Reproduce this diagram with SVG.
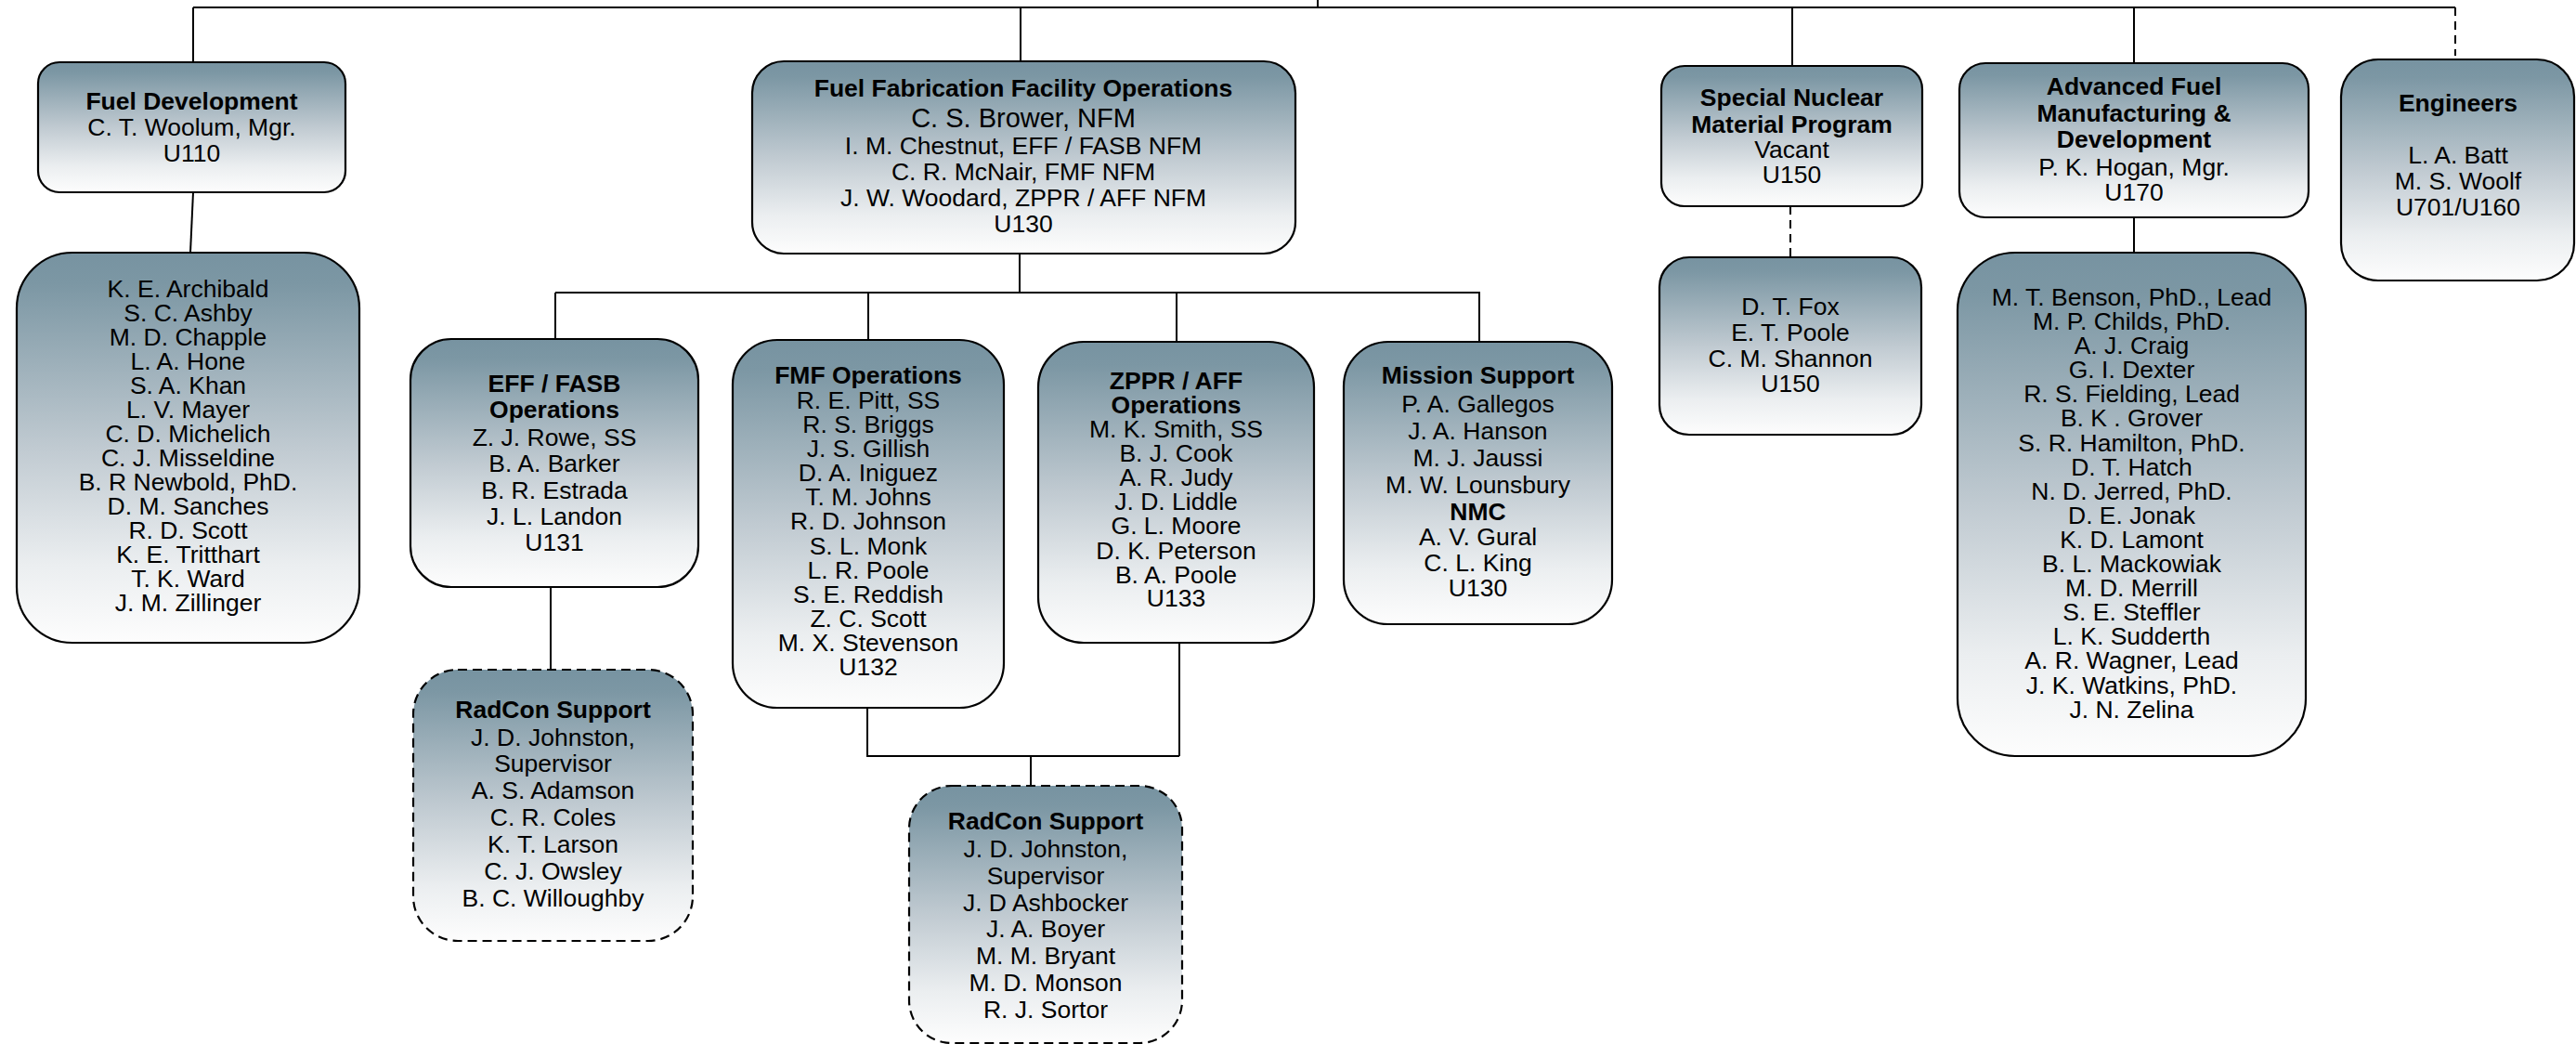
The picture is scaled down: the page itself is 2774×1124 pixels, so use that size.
<svg xmlns="http://www.w3.org/2000/svg" width="2774" height="1124" viewBox="0 0 2774 1124">
<defs>
<linearGradient id="g" x1="0" y1="0" x2="0" y2="1">
<stop offset="0" stop-color="#7793a1"/>
<stop offset="0.08" stop-color="#7c97a4"/>
<stop offset="0.5" stop-color="#c0cad1"/>
<stop offset="0.8" stop-color="#ebeef0"/>
<stop offset="1" stop-color="#fdfdfd"/>
</linearGradient>
<style>
.box{fill:url(#g);stroke:#000;stroke-width:2.2}
.dsh{stroke-dasharray:10 6}
.t{font-family:"Liberation Sans",Arial,sans-serif;font-size:26.5px;text-anchor:middle;fill:#000}
.b{font-weight:bold}
.c{stroke:#000;stroke-width:2;fill:none}
.cd{stroke-dasharray:9 6}
</style>
</defs>
<rect width="2774" height="1124" fill="#fff"/>
<g id="connectors">
<path class="c" d="M208 8H2644M1419 0V8M208 8V67M1099 8V66M1930 8V71M2298 8V68"/>
<path class="c cd" d="M2644 8V60"/>
<path class="c" d="M208 207L205 272"/>
<path class="c" d="M1098 273V315M598 315H1594M598 315V365M935 315V366M1267 315V368M1593 315V368"/>
<path class="c" d="M593 632V721"/>
<path class="c" d="M934 762V814H1270M1270 692V814M1110 814V846"/>
<path class="c cd" d="M1928 222V277"/>
<path class="c" d="M2298 234V272"/>
</g>
<g id="fuel-development">
<rect class="box" x="41" y="67" width="331" height="140" rx="23"/>
<text class="t"><tspan class="b" x="206.5" y="118">Fuel Development</tspan><tspan x="206.5" y="146">C. T. Woolum, Mgr.</tspan><tspan x="206.5" y="174">U110</tspan></text>
</g>
<g id="fuel-development-staff">
<rect class="box" x="18" y="272" width="369" height="420" rx="60"/>
<text class="t"><tspan x="202.5" y="320">K. E. Archibald</tspan><tspan x="202.5" y="346">S. C. Ashby</tspan><tspan x="202.5" y="372">M. D. Chapple</tspan><tspan x="202.5" y="398">L. A. Hone</tspan><tspan x="202.5" y="424">S. A. Khan</tspan><tspan x="202.5" y="450">L. V. Mayer</tspan><tspan x="202.5" y="476">C. D. Michelich</tspan><tspan x="202.5" y="502">C. J. Misseldine</tspan><tspan x="202.5" y="528">B. R Newbold, PhD.</tspan><tspan x="202.5" y="554">D. M. Sanches</tspan><tspan x="202.5" y="580">R. D. Scott</tspan><tspan x="202.5" y="606">K. E. Tritthart</tspan><tspan x="202.5" y="632">T. K. Ward</tspan><tspan x="202.5" y="658">J. M. Zillinger</tspan></text>
</g>
<g id="fuel-fabrication-facility-operations">
<rect class="box" x="810" y="66" width="585" height="207" rx="34"/>
<text class="t"><tspan class="b" x="1102" y="104">Fuel Fabrication Facility Operations</tspan><tspan x="1102" y="137" style="font-size:29px">C. S. Brower, NFM</tspan><tspan x="1102" y="166">I. M. Chestnut, EFF / FASB NFM</tspan><tspan x="1102" y="194">C. R. McNair, FMF NFM</tspan><tspan x="1102" y="222">J. W. Woodard, ZPPR / AFF NFM</tspan><tspan x="1102" y="250">U130</tspan></text>
</g>
<g id="eff-fasb-operations">
<rect class="box" x="442" y="365" width="310" height="267" rx="44"/>
<text class="t"><tspan class="b" x="597" y="422">EFF / FASB</tspan><tspan class="b" x="597" y="450">Operations</tspan><tspan x="597" y="480">Z. J. Rowe, SS</tspan><tspan x="597" y="508">B. A. Barker</tspan><tspan x="597" y="537">B. R. Estrada</tspan><tspan x="597" y="565">J. L. Landon</tspan><tspan x="597" y="593">U131</tspan></text>
</g>
<g id="fmf-operations">
<rect class="box" x="789" y="366" width="292" height="396" rx="48"/>
<text class="t"><tspan class="b" x="935" y="413">FMF Operations</tspan><tspan x="935" y="440">R. E. Pitt, SS</tspan><tspan x="935" y="466">R. S. Briggs</tspan><tspan x="935" y="492">J. S. Gillish</tspan><tspan x="935" y="518">D. A. Iniguez</tspan><tspan x="935" y="544">T. M. Johns</tspan><tspan x="935" y="570">R. D. Johnson</tspan><tspan x="935" y="597">S. L. Monk</tspan><tspan x="935" y="623">L. R. Poole</tspan><tspan x="935" y="649">S. E. Reddish</tspan><tspan x="935" y="675">Z. C. Scott</tspan><tspan x="935" y="701">M. X. Stevenson</tspan><tspan x="935" y="727">U132</tspan></text>
</g>
<g id="zppr-aff-operations">
<rect class="box" x="1118" y="368" width="297" height="324" rx="49"/>
<text class="t"><tspan class="b" x="1266.5" y="419">ZPPR / AFF</tspan><tspan class="b" x="1266.5" y="445">Operations</tspan><tspan x="1266.5" y="471">M. K. Smith, SS</tspan><tspan x="1266.5" y="497">B. J. Cook</tspan><tspan x="1266.5" y="523">A. R. Judy</tspan><tspan x="1266.5" y="549">J. D. Liddle</tspan><tspan x="1266.5" y="575">G. L. Moore</tspan><tspan x="1266.5" y="602">D. K. Peterson</tspan><tspan x="1266.5" y="628">B. A. Poole</tspan><tspan x="1266.5" y="653">U133</tspan></text>
</g>
<g id="mission-support">
<rect class="box" x="1447" y="368" width="289" height="304" rx="48"/>
<text class="t"><tspan class="b" x="1591.5" y="413">Mission Support</tspan><tspan x="1591.5" y="444">P. A. Gallegos</tspan><tspan x="1591.5" y="473">J. A. Hanson</tspan><tspan x="1591.5" y="502">M. J. Jaussi</tspan><tspan x="1591.5" y="531">M. W. Lounsbury</tspan><tspan class="b" x="1591.5" y="560">NMC</tspan><tspan x="1591.5" y="587">A. V. Gural</tspan><tspan x="1591.5" y="615">C. L. King</tspan><tspan x="1591.5" y="642">U130</tspan></text>
</g>
<g id="radcon-support-1">
<rect class="box dsh" x="445" y="721" width="301" height="292" rx="48"/>
<text class="t"><tspan class="b" x="595.5" y="773">RadCon Support</tspan><tspan x="595.5" y="803">J. D. Johnston,</tspan><tspan x="595.5" y="831">Supervisor</tspan><tspan x="595.5" y="860">A. S. Adamson</tspan><tspan x="595.5" y="889">C. R. Coles</tspan><tspan x="595.5" y="918">K. T. Larson</tspan><tspan x="595.5" y="947">C. J. Owsley</tspan><tspan x="595.5" y="976">B. C. Willoughby</tspan></text>
</g>
<g id="radcon-support-2">
<rect class="box dsh" x="979" y="846" width="294" height="277" rx="46"/>
<text class="t"><tspan class="b" x="1126" y="893">RadCon Support</tspan><tspan x="1126" y="923">J. D. Johnston,</tspan><tspan x="1126" y="952">Supervisor</tspan><tspan x="1126" y="981">J. D Ashbocker</tspan><tspan x="1126" y="1009">J. A. Boyer</tspan><tspan x="1126" y="1038">M. M. Bryant</tspan><tspan x="1126" y="1067">M. D. Monson</tspan><tspan x="1126" y="1096">R. J. Sortor</tspan></text>
</g>
<g id="special-nuclear-material-program">
<rect class="box" x="1789" y="71" width="281" height="151" rx="25"/>
<text class="t"><tspan class="b" x="1929.5" y="114">Special Nuclear</tspan><tspan class="b" x="1929.5" y="143">Material Program</tspan><tspan x="1929.5" y="170">Vacant</tspan><tspan x="1929.5" y="197">U150</tspan></text>
</g>
<g id="snm-staff">
<rect class="box" x="1787" y="277" width="282" height="191" rx="32"/>
<text class="t"><tspan x="1928" y="339">D. T. Fox</tspan><tspan x="1928" y="367">E. T. Poole</tspan><tspan x="1928" y="395">C. M. Shannon</tspan><tspan x="1928" y="422">U150</tspan></text>
</g>
<g id="advanced-fuel-manufacturing-development">
<rect class="box" x="2110" y="68" width="376" height="166" rx="28"/>
<text class="t"><tspan class="b" x="2298" y="102">Advanced Fuel</tspan><tspan class="b" x="2298" y="131">Manufacturing &amp;</tspan><tspan class="b" x="2298" y="159">Development</tspan><tspan x="2298" y="189">P. K. Hogan, Mgr.</tspan><tspan x="2298" y="216">U170</tspan></text>
</g>
<g id="afmd-staff">
<rect class="box" x="2108" y="272" width="375" height="542" rx="62"/>
<text class="t"><tspan x="2295.5" y="329">M. T. Benson, PhD., Lead</tspan><tspan x="2295.5" y="355">M. P. Childs, PhD.</tspan><tspan x="2295.5" y="381">A. J. Craig</tspan><tspan x="2295.5" y="407">G. I. Dexter</tspan><tspan x="2295.5" y="433">R. S. Fielding, Lead</tspan><tspan x="2295.5" y="459">B. K . Grover</tspan><tspan x="2295.5" y="486">S. R. Hamilton, PhD.</tspan><tspan x="2295.5" y="512">D. T. Hatch</tspan><tspan x="2295.5" y="538">N. D. Jerred, PhD.</tspan><tspan x="2295.5" y="564">D. E. Jonak</tspan><tspan x="2295.5" y="590">K. D. Lamont</tspan><tspan x="2295.5" y="616">B. L. Mackowiak</tspan><tspan x="2295.5" y="642">M. D. Merrill</tspan><tspan x="2295.5" y="668">S. E. Steffler</tspan><tspan x="2295.5" y="694">L. K. Sudderth</tspan><tspan x="2295.5" y="720">A. R. Wagner, Lead</tspan><tspan x="2295.5" y="747">J. K. Watkins, PhD.</tspan><tspan x="2295.5" y="773">J. N. Zelina</tspan></text>
</g>
<g id="engineers">
<rect class="box" x="2521" y="64" width="251" height="238" rx="40"/>
<text class="t"><tspan class="b" x="2647" y="120">Engineers</tspan><tspan x="2647" y="176">L. A. Batt</tspan><tspan x="2647" y="204">M. S. Woolf</tspan><tspan x="2647" y="232">U701/U160</tspan></text>
</g>
</svg>
